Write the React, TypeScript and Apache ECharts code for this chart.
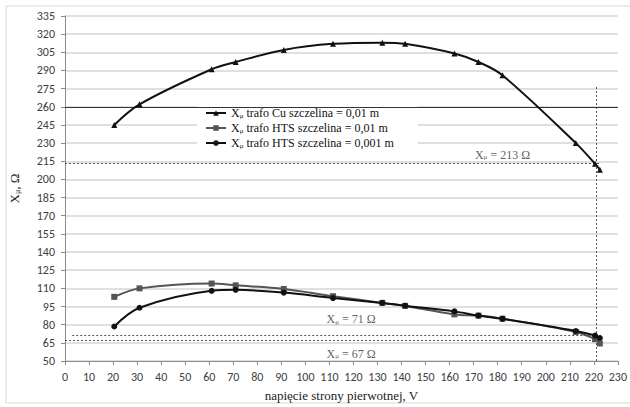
import React, { useEffect, useRef } from 'react';
import * as echarts from 'echarts';

// primary-side voltage, V
const voltage = [20.5, 31, 61, 71, 91, 111.5, 132, 141.5, 162, 172, 182, 212.5, 220.5, 222.5];
// X_mu values, Ohm
const cuGap001 = [245, 262, 291, 297, 307, 312, 313, 312, 304, 297, 286, 230, 213, 208];
const htsGap001 = [103, 110, 114, 112.5, 109.5, 103.5, 98, 95.5, 88.5, 87.5, 85, 74, 68, 64.5];
const htsGap0001 = [78.5, 94, 108, 108.8, 106.5, 102, 98, 95.7, 91, 87.5, 84.8, 74.8, 71, 69];

const seriesNames = [
  'Xμ trafo Cu szczelina = 0,01 m',
  'Xμ trafo HTS szczelina = 0,01 m',
  'Xμ trafo HTS szczelina = 0,001 m',
];

// reference levels (Ohm) and the rated voltage
const refLevels = [213, 71, 67];
const refStartV = [0, 3, 0];
const refEndV = 223;
const ratedVoltage = 220.8;
const ratedTop = 277;

// annotation labels
const annotX = [182, 119, 119];
const annotY = [213, 84.5, 56];
const annotText = ['213', '71', '67'];

const xMin = 0, xMax = 230, xStep = 10;
const yMin = 50, yMax = 335, yStep = 15;

const serif = '"Liberation Serif", "Times New Roman", serif';
const sans = 'Carlito, Lato, "Open Sans", sans-serif';

export default function App() {
  const ref = useRef<HTMLDivElement>(null);
  useEffect(() => {
    const chart = echarts.init(ref.current!, null, { renderer: 'svg' });
    const mk = (ys: number[]) => voltage.map((v, i) => [v, ys[i]]);
    const richSub = (size: number, color: string) => ({
      x: { fontFamily: serif, fontSize: size, color },
      s: { fontFamily: serif, fontSize: Math.round(size * 0.6), color, verticalAlign: 'bottom', padding: [5, 0, 0, 0] },
      t: { fontFamily: serif, fontSize: size, color },
    });
    const dotted = { type: [2, 2], color: '#555', width: 1 };
    chart.setOption({
      animation: false,
      backgroundColor: '#fff',
      graphic: [
        {
          type: 'rect',
          shape: { x: 6, y: 6, width: 640, height: 397 },
          style: { fill: 'none', stroke: '#d9d9d9', lineWidth: 1 },
          silent: true,
        },
      ],
      grid: { left: 64, right: 12, top: 16, bottom: 42 },
      legend: {
        data: seriesNames,
        orient: 'vertical',
        left: 197,
        top: 103,
        itemWidth: 20,
        itemHeight: 7,
        itemGap: 3,
        padding: [4, 24, 4, 8],
        backgroundColor: '#fff',
        formatter: (name: string) => `{x|X}{s|μ}{t|${name.slice(2)}}`,
        textStyle: { rich: richSub(12, '#111'), fontFamily: serif, fontSize: 12, color: '#111' },
      },
      xAxis: {
        type: 'value',
        min: xMin,
        max: xMax,
        interval: xStep,
        name: 'napięcie strony pierwotnej, V',
        nameLocation: 'middle',
        nameGap: 28,
        nameTextStyle: { fontFamily: serif, fontSize: 13, color: '#222' },
        axisLine: { show: true, lineStyle: { color: '#8c8c8c' } },
        axisTick: { show: true, length: 4, lineStyle: { color: '#8c8c8c' } },
        axisLabel: { fontFamily: sans, fontSize: 12, color: '#404040', margin: 10 },
        splitLine: { show: false },
      },
      yAxis: {
        type: 'value',
        min: yMin,
        max: yMax,
        interval: yStep,
        name: '{x|X}{s|μ}{t|, Ω}',
        nameLocation: 'middle',
        nameGap: 44,
        nameRotate: 90,
        nameTextStyle: { fontFamily: serif, fontSize: 13, color: '#222', rich: richSub(13, '#222') },
        axisLine: { show: true, lineStyle: { color: '#8c8c8c' } },
        axisTick: { show: true, length: 4, lineStyle: { color: '#8c8c8c' } },
        axisLabel: { fontFamily: sans, fontSize: 12, color: '#404040', margin: 10 },
        splitLine: { show: true, lineStyle: { color: '#d6d6d6', width: 1.5 } },
      },
      series: [
        {
          name: seriesNames[0],
          type: 'line',
          data: mk(cuGap001),
          smooth: 0.35,
          symbol: 'triangle',
          symbolSize: 6,
          itemStyle: { color: '#111' },
          lineStyle: { color: '#111', width: 2 },
          z: 5,
        },
        {
          name: seriesNames[1],
          type: 'line',
          data: mk(htsGap001),
          smooth: 0.35,
          symbol: 'rect',
          symbolSize: 6,
          itemStyle: { color: '#555' },
          lineStyle: { color: '#555', width: 2 },
          z: 4,
        },
        {
          name: seriesNames[2],
          type: 'line',
          data: mk(htsGap0001),
          smooth: 0.35,
          symbol: 'circle',
          symbolSize: 6,
          itemStyle: { color: '#111' },
          lineStyle: { color: '#111', width: 2 },
          z: 5,
        },
        {
          name: 'annotations',
          type: 'scatter',
          symbolSize: 0,
          silent: true,
          data: annotX.map((x, i) => ({
            value: [x, annotY[i]],
            label: {
              show: true,
              position: i === 0 ? 'top' : 'inside',
              distance: 3,
              formatter: `{x|X}{s|μ}{t| = ${annotText[i]} Ω}`,
              rich: richSub(12, '#333'),
            },
          })),
          markLine: {
            silent: true,
            symbol: ['none', 'none'],
            label: { show: false },
            lineStyle: dotted,
            data: [
              ...refLevels.map((lv, i) => [
                { coord: [refStartV[i], lv] },
                { coord: [refEndV, lv] },
              ]),
              [
                { coord: [ratedVoltage, yMin] },
                { coord: [ratedVoltage, ratedTop] },
              ],
              [
                { coord: [xMin, 260], lineStyle: { type: 'solid', color: '#333', width: 1 } },
                { coord: [xMax, 260] },
              ],
            ],
          },
          z: 3,
        },
      ],
    });
    return () => chart.dispose();
  }, []);
  return (
    <div
      ref={ref}
      style={{ position: 'absolute', left: 0, top: 0, width: 630, height: 407, background: '#fff' }}
    />
  );
}
